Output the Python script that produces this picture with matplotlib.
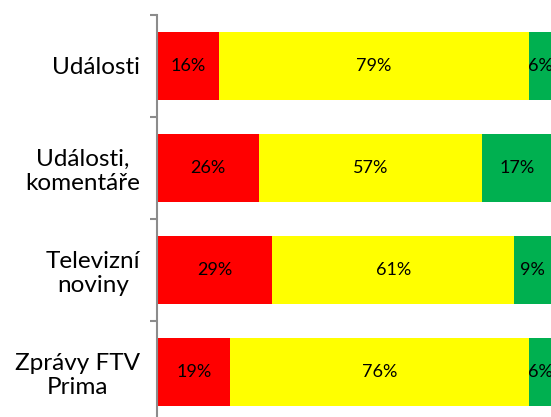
import numpy as np
import matplotlib.pyplot as plt

# categories from top to bottom, shares in percent
categories = ['Události', 'Události,\nkomentáře', 'Televizní\nnoviny', 'Zprávy FTV\nPrima']
red_vals = [15.8, 26.0, 29.3, 18.6]
yellow_vals = [78.6, 56.6, 61.3, 75.8]
green_vals = [5.6, 17.4, 9.4, 5.6]

colors = ['#FF0000', '#FFFF00', '#00B050']

plt.rcParams['font.family'] = ['Lato', 'DejaVu Sans']

fig = plt.figure(figsize=(5.51, 4.17), dpi=100)
# axis runs past the bottom edge of the picture, as in the original crop
ax = fig.add_axes([157/551, -6/417, (551-157)/551, (423-15)/417])

y = np.arange(len(categories))
left = np.zeros(len(categories))
for vals, col in zip([red_vals, yellow_vals, green_vals], colors):
    vals = np.array(vals, dtype=float)
    ax.barh(y, vals, left=left, height=0.67, color=col, edgecolor='none')
    for yi, l, v in zip(y, left, vals):
        ax.text(l + v/2, yi, '%.0f%%' % v, ha='center', va='center', fontsize=13, color='black')
    left += vals

ax.set_xlim(0, 100)
ax.set_ylim(len(categories) - 0.5, -0.5)

for s in ['top', 'right', 'bottom']:
    ax.spines[s].set_visible(False)
ax.spines['left'].set_color('#8C8C8C')
ax.spines['left'].set_linewidth(1.5)

ax.set_xticks([])
ax.set_yticks(y)
ax.set_yticklabels(categories, fontsize=17.5, linespacing=1.15, ha='right', multialignment='center')
ax.tick_params(axis='y', which='major', length=0, pad=12)
ax.set_yticks(np.arange(len(categories) + 1) - 0.5, minor=True)
ax.tick_params(axis='y', which='minor', length=5, width=1.5, color='#8C8C8C', direction='out')

fig.savefig('out.png', dpi=100)
